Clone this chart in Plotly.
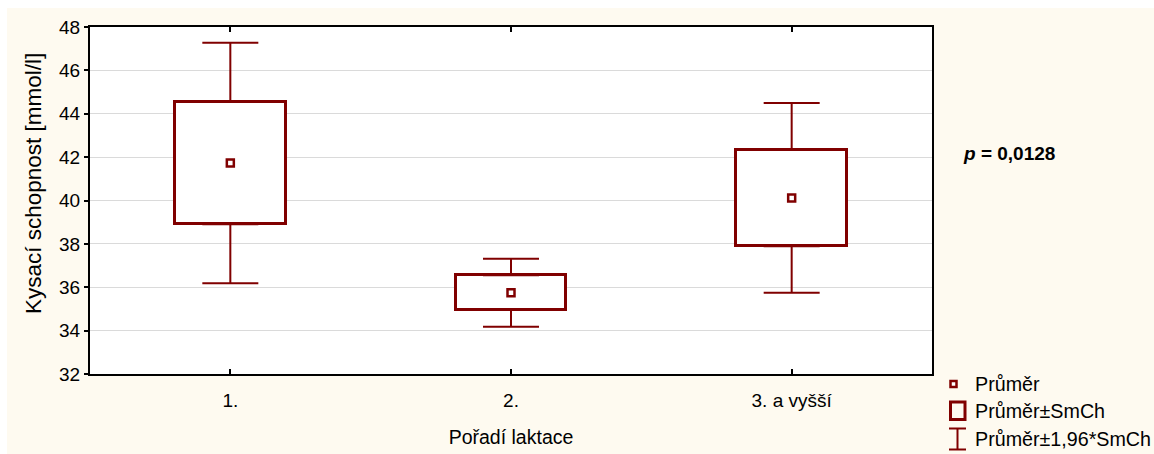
import plotly.graph_objects as go

# Lactation order groups, mean and standard error of titratable acidity
categories = ["1.", "2.", "3. a vyšší"]
means = [41.73, 35.75, 40.12]
std_errors = [2.83, 0.80, 2.23]
y_ticks = [32, 34, 36, 38, 40, 42, 44, 46, 48]
p_text = "<b><i>p</i> = 0,0128</b>"
y_title = "Kysací schopnost [mmol/l]"

RED = "#800000"
CREAM = "#FEFAF0"
FONT = "Liberation Sans, Arial, sans-serif"

W, H = 1154, 454
L, R, T, B = 90, 222, 27, 80
PW, PH = W - L - R, H - T - B

xpos = list(range(len(categories)))
box_low = [m - s for m, s in zip(means, std_errors)]
box_height = [2 * s for s in std_errors]
whisker_extra = [0.96 * s for s in std_errors]


def px_x(px):
    return (px - L) / PW


def px_y(py):
    return (H - B - py) / PH


fig = go.Figure()

# mean ± SE boxes
fig.add_trace(go.Bar(
    x=xpos, y=box_height, base=box_low, width=0.395,
    marker=dict(color="white", line=dict(color=RED, width=3)),
    showlegend=False, hoverinfo="skip",
))

# whiskers to mean ± 1.96*SE, starting at the box edges
fig.add_trace(go.Scatter(
    x=xpos + xpos,
    y=[m + s for m, s in zip(means, std_errors)] + box_low,
    mode="markers",
    marker=dict(size=1, color="rgba(0,0,0,0)"),
    error_y=dict(
        type="data", symmetric=False,
        array=whisker_extra + [0, 0, 0],
        arrayminus=[0, 0, 0] + whisker_extra,
        color=RED, thickness=2, width=28,
    ),
    showlegend=False, hoverinfo="skip",
))

# group means
fig.add_trace(go.Scatter(
    x=xpos, y=means, mode="markers",
    marker=dict(symbol="square", size=7, color="white",
                line=dict(color=RED, width=2.5)),
    showlegend=False,
))

shapes = []
annotations = []

# white strips framing the cream panel
shapes.append(dict(type="rect", xref="paper", yref="paper",
                   x0=px_x(0), x1=px_x(W), y0=px_y(8), y1=px_y(0),
                   fillcolor="white", line=dict(width=0), layer="below"))
shapes.append(dict(type="rect", xref="paper", yref="paper",
                   x0=px_x(0), x1=px_x(7), y0=px_y(H), y1=px_y(0),
                   fillcolor="white", line=dict(width=0), layer="below"))

# legend swatches
shapes.append(dict(type="rect", xref="paper", yref="paper",
                   x0=px_x(950.5), x1=px_x(956.5), y0=px_y(387), y1=px_y(381),
                   fillcolor="white", line=dict(color=RED, width=2.5)))
shapes.append(dict(type="rect", xref="paper", yref="paper",
                   x0=px_x(950.5), x1=px_x(965), y0=px_y(419.5), y1=px_y(402),
                   fillcolor="rgba(0,0,0,0)", line=dict(color=RED, width=3)))
for seg in [((949, 428.5), (966, 428.5)), ((949, 449.5), (966, 449.5)),
            ((957.5, 428.5), (957.5, 449.5))]:
    (ax, ay), (bx, by) = seg
    shapes.append(dict(type="line", xref="paper", yref="paper",
                       x0=px_x(ax), y0=px_y(ay), x1=px_x(bx), y1=px_y(by),
                       line=dict(color=RED, width=2)))

for label, cy in [("Průměr", 384), ("Průměr±SmCh", 411), ("Průměr±1,96*SmCh", 439)]:
    annotations.append(dict(text=label, xref="paper", yref="paper",
                            x=px_x(973), y=px_y(cy), xanchor="left", yanchor="middle",
                            showarrow=False, font=dict(size=19.7, color="black", family=FONT)))

annotations.append(dict(text=p_text, xref="paper", yref="paper",
                        x=px_x(961), y=px_y(153), xanchor="left", yanchor="middle",
                        showarrow=False, font=dict(size=19, color="black", family=FONT)))

# vertical axis title
annotations.append(dict(text=y_title, xref="paper", yref="paper",
                        x=px_x(33), y=px_y(184), xanchor="center", yanchor="middle",
                        textangle=-90, showarrow=False,
                        font=dict(size=22.5, color="black", family=FONT)))

fig.update_layout(
    width=W, height=H,
    margin=dict(l=L, r=R, t=T, b=B),
    paper_bgcolor=CREAM, plot_bgcolor="white",
    font=dict(family=FONT, size=19, color="black"),
    bargap=0,
    showlegend=False,
    shapes=shapes,
    annotations=annotations,
    xaxis=dict(
        range=[-0.5, 2.5], tickvals=xpos, ticktext=categories,
        ticks="inside", ticklen=5, tickwidth=2, tickcolor="black",
        showline=True, linewidth=2, linecolor="black", mirror="ticks",
        showgrid=False, zeroline=False, ticklabelstandoff=8, automargin=False,
        title=dict(text="Pořadí laktace", standoff=21, font=dict(size=19.5)),
        tickfont=dict(size=19),
    ),
    yaxis=dict(
        range=[32, 48], tickvals=y_ticks,
        ticks="outside", ticklen=4, tickwidth=2, tickcolor="black",
        showline=True, linewidth=2, linecolor="black", mirror=True,
        showgrid=True, gridcolor="#DADADA", gridwidth=1, zeroline=False,
        automargin=False, tickfont=dict(size=19),
    ),
    yaxis2=dict(
        overlaying="y", side="right", range=[32, 48], tickvals=y_ticks,
        ticks="inside", ticklen=4, tickwidth=2, tickcolor="black",
        showticklabels=False, showgrid=False, zeroline=False, showline=False,
        automargin=False,
    ),
)

fig.write_html("out.html")
